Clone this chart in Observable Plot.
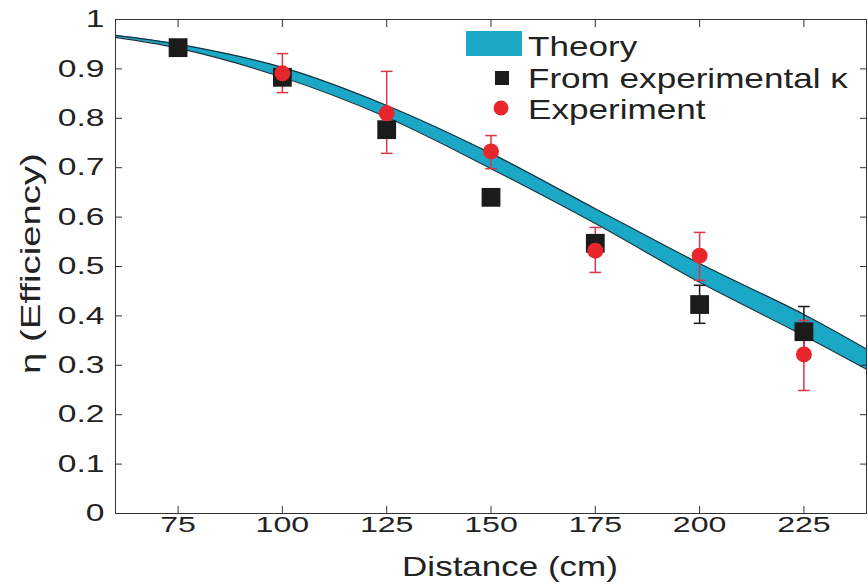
<!DOCTYPE html>
<html><head><meta charset="utf-8">
<script src="https://cdn.jsdelivr.net/npm/d3@7"></script>
<script src="https://cdn.jsdelivr.net/npm/@observablehq/plot@0.6"></script>
<style>
body{margin:0;background:#fff;}
#wrap{position:relative;width:868px;height:586px;font-family:"Liberation Sans",Arial,sans-serif;}
#legend{position:absolute;left:0;top:0;pointer-events:none;}
</style></head><body><div id="wrap"></div>
<script>
// Theory band (upper and lower edges)
const theoryDistance = [60, 75, 100, 125, 150, 175, 200, 225, 240];
const theoryUpper   = [0.968, 0.950, 0.903, 0.826, 0.729, 0.617, 0.506, 0.403, 0.333];
const theoryLower   = [0.964, 0.942, 0.883, 0.802, 0.698, 0.587, 0.468, 0.360, 0.292];

// From experimental kappa (black squares)
const kappaDistance = [75, 100, 125, 150, 175, 200, 225];
const kappaEff      = [0.943, 0.883, 0.777, 0.640, 0.547, 0.423, 0.368];
const kappaErrLow   = [null, null, null, null, 0.531, 0.385, 0.318];
const kappaErrHigh  = [null, null, null, null, 0.563, 0.462, 0.419];

// Experiment (red circles)
const expDistance = [100, 125, 150, 175, 200, 225];
const expEff      = [0.891, 0.810, 0.733, 0.532, 0.522, 0.322];
const expErrLow   = [0.852, 0.729, 0.698, 0.488, 0.472, 0.249];
const expErrHigh  = [0.931, 0.895, 0.765, 0.579, 0.569, 0.391];

const xTicks = [75, 100, 125, 150, 175, 200, 225];
const yTicks = [0, 0.1, 0.2, 0.3, 0.4, 0.5, 0.6, 0.7, 0.8, 0.9, 1];
const xLabel = "Distance (cm)";
const yLabel = "η (Efficiency)";
const legendItems = ["Theory", "From experimental κ", "Experiment"];

const theory = theoryDistance.map((x, i) => ({x, lo: theoryLower[i], hi: theoryUpper[i]}));
const kappa = kappaDistance.map((x, i) => ({x, y: kappaEff[i], lo: kappaErrLow[i], hi: kappaErrHigh[i]}));
const kappaErr = kappa.filter(d => d.lo != null);
const exp = expDistance.map((x, i) => ({x, y: expEff[i], lo: expErrLow[i], hi: expErrHigh[i]}));

const CYAN = "#1ba7c6", EDGE = "#17343c", RED = "#e8262e", REDBAR = "#d8374a", BLACK = "#1b1b1b";
const capHalf = 1.4;

const chart = Plot.plot({
  width: 868, height: 586,
  marginLeft: 115, marginRight: 2, marginTop: 19, marginBottom: 73,
  style: {fontFamily: "'Liberation Sans', Arial, sans-serif", background: "white", color: "#222"},
  x: {domain: [60, 240]},
  y: {domain: [0, 1]},
  marks: [
    Plot.areaY(theory, {x: "x", y1: "lo", y2: "hi", fill: CYAN, curve: "catmull-rom"}),
    Plot.lineY(theory, {x: "x", y: "hi", stroke: EDGE, strokeWidth: 1.2, curve: "catmull-rom"}),
    Plot.lineY(theory, {x: "x", y: "lo", stroke: EDGE, strokeWidth: 1.2, curve: "catmull-rom"}),
    Plot.ruleX(kappaErr, {x: "x", y1: "lo", y2: "hi", stroke: BLACK, strokeWidth: 1.5}),
    Plot.link(kappaErr, {x1: d => d.x - capHalf, x2: d => d.x + capHalf, y1: "hi", y2: "hi", stroke: BLACK, strokeWidth: 1.5}),
    Plot.link(kappaErr, {x1: d => d.x - capHalf, x2: d => d.x + capHalf, y1: "lo", y2: "lo", stroke: BLACK, strokeWidth: 1.5}),
    Plot.ruleX(exp, {x: "x", y1: "lo", y2: "hi", stroke: REDBAR, strokeWidth: 1.5}),
    Plot.link(exp, {x1: d => d.x - capHalf, x2: d => d.x + capHalf, y1: "hi", y2: "hi", stroke: REDBAR, strokeWidth: 1.5}),
    Plot.link(exp, {x1: d => d.x - capHalf, x2: d => d.x + capHalf, y1: "lo", y2: "lo", stroke: REDBAR, strokeWidth: 1.5}),
    Plot.dot(kappa, {x: "x", y: "y", symbol: "square", r: 10.6, fill: BLACK}),
    Plot.dot(exp, {x: "x", y: "y", r: 8, fill: RED}),
    Plot.frame({stroke: "#333", strokeWidth: 1}),
    Plot.axisX({ticks: xTicks, tickSize: -7, tickPadding: 10, fontSize: 22, stroke: "#333", fill: "#222",
      label: xLabel, labelAnchor: "center", labelOffset: 62}),
    Plot.axisX({anchor: "top", ticks: xTicks, tickSize: -7, tickFormat: () => "", label: null, stroke: "#333"}),
    Plot.axisY({ticks: yTicks, tickSize: -7, tickPadding: 18, fontSize: 24, stroke: "#333", fill: "#222",
      tickFormat: d => String(+d.toFixed(1)),
      label: yLabel, labelAnchor: "center", labelOffset: 95}),
    Plot.axisY({anchor: "right", ticks: yTicks, tickSize: -7, tickFormat: () => "", label: null, stroke: "#333"})
  ]
});
document.getElementById("wrap").appendChild(chart);

const svg = chart.tagName.toLowerCase() === "svg" ? chart : chart.querySelector("svg");
function stretch(label, s, fs, txt, shift = "") {
  svg.querySelectorAll(`g[aria-label="${label}"]`).forEach(g => {
    if (fs) g.setAttribute("font-size", fs);
    g.querySelectorAll("text").forEach(t => {
      if (txt) t.textContent = txt;
      const tr = t.getAttribute("transform");
      if (tr) t.setAttribute("transform", tr + ` ${shift} scale(${s},1)`);
      else {
        const x = t.getAttribute("x") || 0, y = t.getAttribute("y") || 0;
        t.setAttribute("transform", `translate(${x},${y}) ${shift} scale(${s},1)`);
        t.removeAttribute("x"); t.removeAttribute("y");
      }
    });
  });
}
stretch("x-axis tick label", 1.46);
stretch("y-axis tick label", 1.4);
stretch("x-axis label", 1.25, 28, xLabel, "translate(19,0)");
stretch("y-axis label", 1.42, 27, yLabel, "translate(3,0)");

// Legend overlay
const ns = "http://www.w3.org/2000/svg";
const lg = document.createElementNS(ns, "svg");
lg.setAttribute("id", "legend");
lg.setAttribute("width", 868); lg.setAttribute("height", 586);
lg.innerHTML = `
  <rect x="466" y="31" width="56" height="25" fill="${CYAN}"/>
  <rect x="495" y="71" width="14" height="14" fill="${BLACK}"/>
  <circle cx="501" cy="108" r="7.5" fill="${RED}"/>
  ${legendItems.map((t, i) => `<text transform="translate(528,${[56, 88, 119][i]}) scale(1.3,1)" font-size="27" fill="#222" font-family="'Liberation Sans', Arial, sans-serif">${t}</text>`).join("")}
`;
document.getElementById("wrap").appendChild(lg);
</script></body></html>
